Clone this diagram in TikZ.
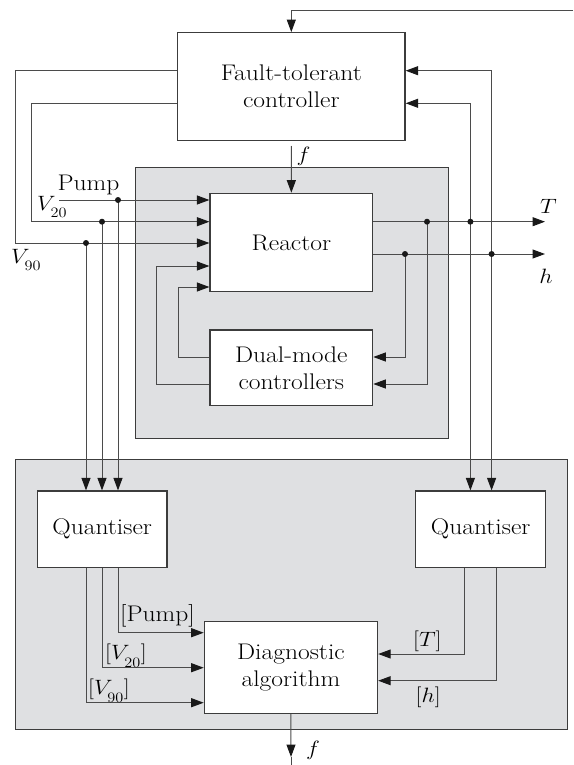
\documentclass[tikz,border=0pt]{standalone}
\usepackage{graphicx}
\usetikzlibrary{arrows.meta}
\definecolor{zonec}{RGB}{223,224,226}
\definecolor{boxc}{RGB}{60,60,60}
\definecolor{linec}{RGB}{75,75,75}
\definecolor{tipc}{RGB}{25,25,25}
\newcommand\labfont{\fontsize{22.6}{27}\selectfont}
\newcommand\st[1]{\scalebox{1.13}[1]{#1}}
\newcommand\lsub[1]{_{\raisebox{-4.5pt}{$\scriptstyle #1$}}}
\begin{document}
\begin{tikzpicture}[x=1pt,y=-1pt,
  zone/.style={draw=boxc, line width=1.2pt, fill=zonec, inner sep=0pt},
  box/.style={draw=boxc, line width=1.2pt, fill=white, inner sep=0pt, align=center, font=\labfont},
  wire/.style={draw=linec, line width=1pt},
  arr/.style={wire, -{Triangle[length=12.5pt,width=9pt,color=tipc]}},
  lab/.style={inner sep=0pt, font=\labfont},
  dotmark/.style={fill=tipc}]
\useasboundingbox (0,0) rectangle (573,765);
% zones
\node[zone, minimum width=313.6pt, minimum height=270.6pt] (zoneA) at (292,303) {};
\node[zone, minimum width=551.9pt, minimum height=270pt] (zoneB) at (291.25,594.3) {};
% boxes
\node[box, minimum width=227.5pt, minimum height=108pt] (ftc) at (291.3,86.7) {\st{Fault-tolerant}\\\st{controller}};
\node[box, minimum width=162.7pt, minimum height=98.4pt] (reactor) at (291.35,242.5) {\st{Reactor}};
\node[box, minimum width=162.7pt, minimum height=75.7pt] (dual) at (291.35,367.85) {\st{Dual-mode}\\\st{controllers}};
\node[box, minimum width=129.7pt, minimum height=76.3pt] (qL) at (102.15,529.15) {\st{Quantiser}};
\node[box, minimum width=130.1pt, minimum height=76.3pt] (qR) at (480.65,529.15) {\st{Quantiser}};
\node[box, minimum width=173.3pt, minimum height=91.6pt] (diag) at (290.95,667.5) {\st{Diagnostic}\\\st{algorithm}};
% coordinates
\coordinate (topin) at (573,11);
\coordinate (L1) at (15.4,70.7);
\coordinate (L2) at (31.8,103.3);
\coordinate (pin) at (59,200);
\coordinate (dP) at (118,200);
\coordinate (d20) at (102,221.7);
\coordinate (d90) at (86,243);
\coordinate (F1) at (156,384);
\coordinate (F1top) at (156,266);
\coordinate (F2) at (178,357);
\coordinate (F2top) at (178,287);
\coordinate (Tend) at (545,221.7);
\coordinate (hend) at (545,254);
\coordinate (dT1) at (427,221.7);
\coordinate (dT2) at (470.4,221.7);
\coordinate (dh1) at (405,254);
\coordinate (dh2) at (491.6,254);
\coordinate (fstart) at (291.3,146);
\coordinate (rP) at (0,632.7);
\coordinate (r20) at (0,667.7);
\coordinate (r90) at (0,702.7);
\coordinate (rT) at (0,654);
\coordinate (rh) at (0,680.7);
\coordinate (cT) at (464.5,0);
\coordinate (ch) at (496.7,0);
\coordinate (fout) at (291,757);
\coordinate (fbot) at (291,765);
% connectors
\draw[arr] (topin) -| (ftc.north);
\draw[arr] (ftc.west |- L1) -- (L1) |- (reactor.west |- d90);
\draw[arr] (ftc.west |- L2) -- (L2) |- (reactor.west |- d20);
\draw[arr] (pin) -- (reactor.west |- pin);
\draw[arr] (fstart) -- (reactor.north);
\draw[arr] (dual.west |- F1) -- (F1) -- (F1top) -- (reactor.west |- F1top);
\draw[arr] (dual.west |- F2) -- (F2) -- (F2top) -- (reactor.west |- F2top);
\draw[arr] (reactor.east |- Tend) -- (Tend);
\draw[arr] (reactor.east |- hend) -- (hend);
\draw[arr] (dh1) |- (dual.east |- F2);
\draw[arr] (dT1) |- (dual.east |- F1);
\draw[arr] (dT2) |- (ftc.east |- L2);
\draw[arr] (dh2) |- (ftc.east |- L1);
\draw[arr] (dT2) -- (qR.north -| dT2);
\draw[arr] (dh2) -- (qR.north -| dh2);
\draw[arr] (d90) -- (qL.north -| d90);
\draw[arr] (d20) -- (qL.north -| d20);
\draw[arr] (dP) -- (qL.north -| dP);
\draw[arr] (qL.south -| dP) |- (diag.west |- rP);
\draw[arr] (qL.south -| d20) |- (diag.west |- r20);
\draw[arr] (qL.south -| d90) |- (diag.west |- r90);
\draw[arr] (qR.south -| cT) |- (diag.east |- rT);
\draw[arr] (qR.south -| ch) |- (diag.east |- rh);
\draw[arr] (diag.south) -- (fout);
\draw[wire] (fout) -- (fbot);
% dots
\foreach \p in {dP,d20,d90,dT1,dT2,dh1,dh2}
  \fill[dotmark] (\p) circle (3pt);
% labels
\node[lab, anchor=base] (lPump) at (88.5,190.7) {\st{Pump}};
\node[lab, anchor=base west] (lV20) at (37,210) {\st{$V\lsub{20}$}};
\node[lab, anchor=base west] (lV90) at (11,263) {\st{$V\lsub{90}$}};
\node[lab, anchor=base] (lT) at (548.5,213) {\st{$T$}};
\node[lab, anchor=base] (lh) at (546,283) {\st{$h$}};
\node[lab, anchor=base west] (lf1) at (296.5,161) {\st{$f$}};
\node[lab, anchor=base west] (lf2) at (306,755) {\st{$f$}};
\node[lab, anchor=base west] (lqP) at (120,621) {\st{[Pump]}};
\node[lab, anchor=base west] (lq20) at (105,659.4) {\st{$[V\lsub{20}]$}};
\node[lab, anchor=base west] (lq90) at (88,694.4) {\st{$[V\lsub{90}]$}};
\node[lab, anchor=base west] (lqT) at (413,646) {\st{$[T]$}};
\node[lab, anchor=base west] (lqh) at (415.5,702.7) {\st{$[h]$}};
\end{tikzpicture}
\end{document}
